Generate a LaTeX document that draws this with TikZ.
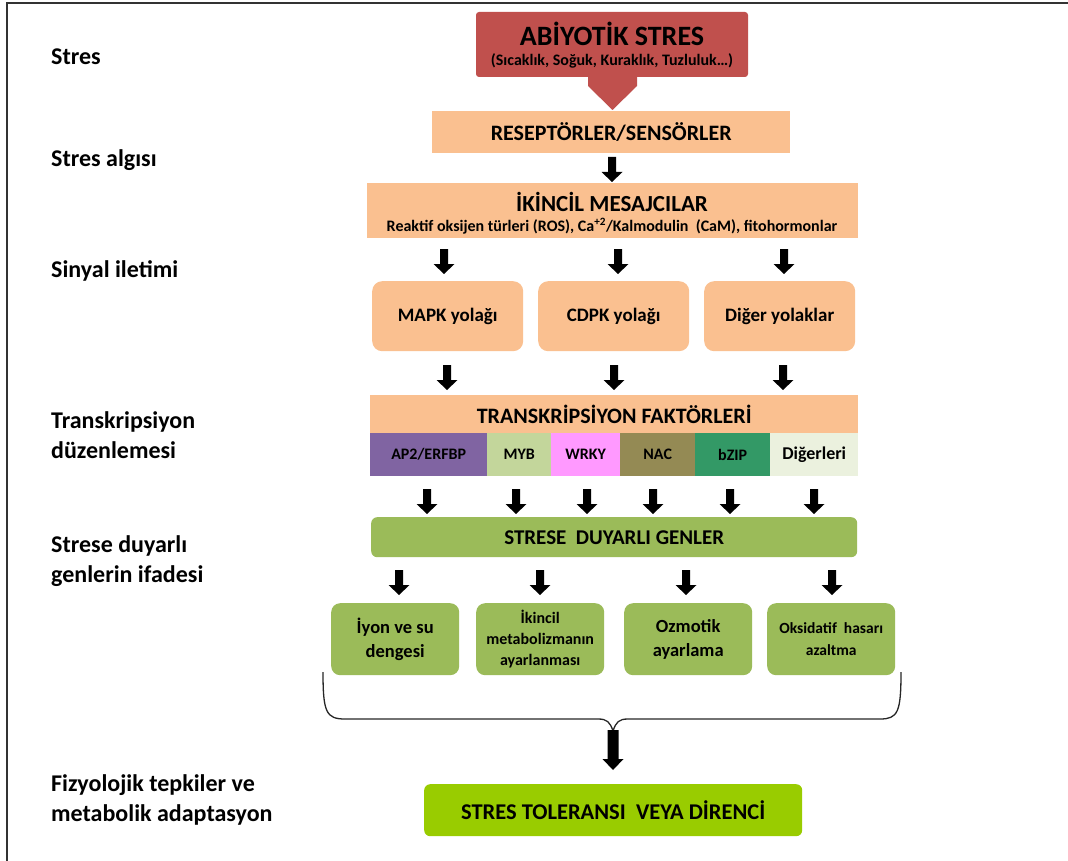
\documentclass[tikz,border=0pt]{standalone}
\usepackage{fontspec}
\setmainfont{Carlito}
\newcommand\fsz[2]{\fontsize{#1}{#2}\selectfont}
\definecolor{redbox}{HTML}{C0504D}
\definecolor{peach}{HTML}{FAC090}
\definecolor{leaf}{HTML}{9BBB59}
\definecolor{lime}{HTML}{99CC00}
\definecolor{cAP}{HTML}{8064A2}
\definecolor{cMYB}{HTML}{C3D69B}
\definecolor{cWRKY}{HTML}{FF99FF}
\definecolor{cNAC}{HTML}{948A54}
\definecolor{cBZIP}{HTML}{339966}
\definecolor{cOTH}{HTML}{EBF1DE}
\begin{document}
\begin{tikzpicture}[x=1pt,y=-1pt,
  lbl/.style={anchor=west,align=left,inner sep=0pt,font=\bfseries\fsz{24}{30}},
  sqbox/.style={fill=peach,draw=none,inner sep=0pt,anchor=north west,align=center},
  pathbox/.style={fill=peach,draw=none,rounded corners=10pt,inner sep=0pt,anchor=north west,align=center,minimum width=151pt,minimum height=70pt,font=\bfseries\fsz{19}{22}},
  cell/.style={draw=none,inner sep=0pt,anchor=north west,minimum height=43pt,font=\bfseries\fsz{16}{20}},
  gbox/.style={fill=leaf,draw=none,rounded corners=9pt,inner sep=0pt,anchor=north west,align=center,minimum width=128pt,minimum height=72pt},
  blk/.pic={\fill[black] (-4,0) -- (4,0) -- (4,15) -- (10.5,15) -- (0,25) -- (-10.5,15) -- (-4,15) -- cycle;}
]
\useasboundingbox (0,0) rectangle (1068,861);
% frame
\draw[line width=2pt,black!80] (1068,3) -- (7,3) -- (7,861);

% left labels
\node[lbl] (l1) at (51,57) {Stres};
\node[lbl] (l2) at (51,160) {Stres algısı};
\node[lbl] (l3) at (51,271) {Sinyal iletimi};
\node[lbl] (l4) at (51,435) {Transkripsiyon\\düzenlemesi};
\node[lbl] (l5) at (51,561) {Strese duyarlı\\genlerin ifadesi};
\node[lbl] (l6) at (51,800) {Fizyolojik tepkiler ve\\metabolik adaptasyon};

% title box with arrow
\fill[redbox,rounded corners=3pt] (476,12) rectangle (748,77);
\fill[redbox] (588,76) -- (637,76) -- (637,86) -- (612.5,110) -- (588,86) -- cycle;
\node[inner sep=0pt,font=\bfseries\fsz{28}{30}] (abio) at (612,34) {ABİYOTİK STRES};
\node[inner sep=0pt,font=\bfseries\fsz{16}{18}] (abio2) at (612,61) {(Sıcaklık,\ Soğuk,\ Kuraklık,\ Tuzluluk…)};

% receptors
\node[sqbox,minimum width=358pt,minimum height=42pt,font=\bfseries\fsz{22}{24}] (rec) at (432,111) {RESEPTÖRLER/SENSÖRLER};
\pic at (612,157) {blk};

% second messengers
\node[sqbox,minimum width=491pt,minimum height=55pt] (msg) at (367,183) {};
\node[inner sep=0pt,font=\bfseries\fsz{23}{26}] (msgt) at (612,202) {İKİNCİL MESAJCILAR};
\node[inner sep=0pt,font=\bfseries\fsz{16}{18}] (msgs) at (612,226) {Reaktif oksijen türleri (ROS), Ca\textsuperscript{+2}/Kalmodulin\ \ (CaM), fitohormonlar};

\pic at (444,249) {blk};
\pic at (618,249) {blk};
\pic at (784,249) {blk};

% pathways
\node[pathbox] (mapk) at (372,281) {MAPK yolağı};
\node[pathbox] (cdpk) at (538,281) {CDPK yolağı};
\node[pathbox] (oth) at (704,281) {Diğer yolaklar};

\pic at (447,365) {blk};
\pic at (614,365) {blk};
\pic at (783,365) {blk};

% transcription factors
\node[sqbox,minimum width=488pt,minimum height=38pt,font=\bfseries\fsz{22}{25}] (tf) at (370,395) {TRANSKRİPSİYON FAKTÖRLERİ};
\node[cell,fill=cAP,minimum width=117pt] (c1) at (370,433) {AP2/ERFBP};
\node[cell,fill=cMYB,minimum width=64pt] (c2) at (487,433) {MYB};
\node[cell,fill=cWRKY,minimum width=69pt] (c3) at (551,433) {WRKY};
\node[cell,fill=cNAC,minimum width=75pt] (c4) at (620,433) {NAC};
\node[cell,fill=cBZIP,minimum width=75pt] (c5) at (695,433) {bZIP};
\node[cell,fill=cOTH,minimum width=88pt,font=\bfseries\fsz{18}{20}] (c6) at (770,433) {Diğerleri};

\pic at (427,489) {blk};
\pic at (516,489) {blk};
\pic at (587,489) {blk};
\pic at (653,489) {blk};
\pic at (730,489) {blk};
\pic at (814,489) {blk};

% stress responsive genes
\node[fill=leaf,rounded corners=6pt,inner sep=0pt,anchor=north west,minimum width=486pt,minimum height=40pt,font=\bfseries\fsz{21}{24}] (genes) at (371,517) {STRESE\ \ DUYARLI GENLER};

\pic at (399,570) {blk};
\pic at (540,570) {blk};
\pic at (686,570) {blk};
\pic at (832,570) {blk};

% four outcome boxes
\node[gbox,font=\bfseries\fsz{18.5}{24}] (g1) at (331,603) {İyon ve su\\dengesi};
\node[gbox,font=\bfseries\fsz{16}{21}] (g2) at (476,603) {İkincil\\metabolizmanın\\ayarlanması};
\node[gbox,font=\bfseries\fsz{18.5}{24}] (g3) at (624,603) {Ozmotik\\ayarlama};
\node[gbox,font=\bfseries\fsz{15.5}{22}] (g4) at (767,603) {Oksidatif\ \ hasarı\\azaltma};

% brace
\coordinate (bl) at (323,672);
\coordinate (br) at (901,672);
\coordinate (bc) at (613,731);
\draw[line width=1.3pt,black!85] (bl) .. controls (323,712) and (326,719) .. (345,719) -- (598,719)
  .. controls (607,719) and (610,722) .. (bc)
  .. controls (616,722) and (619,719) .. (628,719) -- (880,719)
  .. controls (898,719) and (901,712) .. (br);
\fill[black] (607.5,730) -- (618.5,730) -- (618.5,759) -- (623.5,759) -- (613,770) -- (602.5,759) -- (607.5,759) -- cycle;

% final
\node[fill=lime,rounded corners=6pt,inner sep=0pt,anchor=north west,minimum width=378pt,minimum height=52pt,font=\bfseries\fsz{22.5}{25}] (tol) at (424,784) {STRES TOLERANSI\ \ VEYA DİRENCİ};
\end{tikzpicture}
\end{document}
